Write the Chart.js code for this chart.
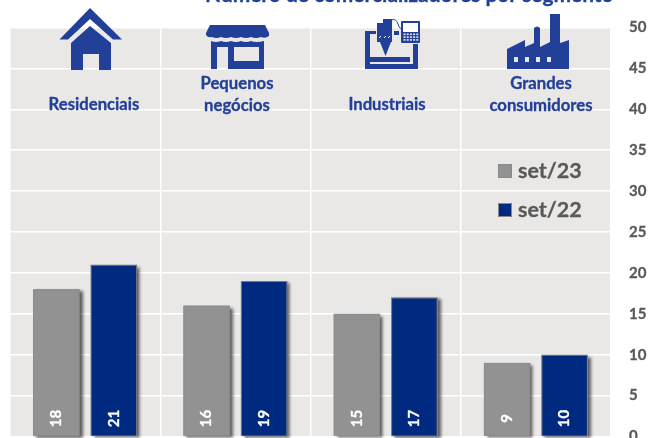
<!DOCTYPE html>
<html><head><meta charset="utf-8">
<style>html,body{margin:0;padding:0;background:#fff;overflow:hidden}#w{width:656px;height:438px;position:relative}</style>
<script src="https://cdn.jsdelivr.net/npm/chart.js@4"></script>
</head><body><div id="w"><canvas id="c"></canvas></div>
<script>
const categories = [["Residenciais"],["Pequenos","negócios"],["Industriais"],["Grandes","consumidores"]];
const set23 = [18,16,15,9];
const set22 = [21,19,17,10];
const seriesNames = ["set/23","set/22"];
const yTicks = [0,5,10,15,20,25,30,35,40,45,50];
const titleText = "Número de comercializadores por segmento";
const BLUE="#234099", NAVY="#002A7F", GREY="#929292", TXT="#595959", FONT="Lato, Carlito, sans-serif";

function house(c){c.beginPath();c.moveTo(59.5,39.5);c.lineTo(90,8);c.lineTo(122,39.5);c.lineTo(113,39.5);c.lineTo(90,19);c.lineTo(68,39.5);c.closePath();c.fill();
 c.beginPath();c.moveTo(71,43);c.lineTo(90,26);c.lineTo(111,43);c.lineTo(111,70);c.lineTo(99,70);c.lineTo(99,54);c.lineTo(83,54);c.lineTo(83,70);c.lineTo(71,70);c.closePath();c.fill();}
function shop(c){c.beginPath();c.moveTo(210,25);c.lineTo(265,25);c.lineTo(269,33);c.lineTo(269,36);c.quadraticCurveTo(265,39,261,37);c.quadraticCurveTo(256,39,251,37);c.quadraticCurveTo(246,39,241,37);c.quadraticCurveTo(236,39,231,37);c.quadraticCurveTo(226,39,221,37);c.quadraticCurveTo(216,39,212,37);c.quadraticCurveTo(208,38,206,35);c.lineTo(206,33);c.closePath();c.fill();
 c.beginPath();c.moveTo(211,41);c.quadraticCurveTo(216,43,221,41);c.quadraticCurveTo(226,43,231,41);c.quadraticCurveTo(236,43,241,41);c.quadraticCurveTo(246,43,251,41);c.quadraticCurveTo(256,43,264,41);c.lineTo(264,69);c.lineTo(228,69);c.lineTo(228,47);c.lineTo(217,47);c.lineTo(217,69);c.lineTo(211,69);c.closePath();c.fill();
 c.fillStyle="#E9E8E7";c.fillRect(234,47,25,14);c.fillStyle=BLUE;}
function machine(c){c.fillRect(365,31,5,38);c.fillRect(365,31,11,3);c.fillRect(365,64,53,5);c.fillRect(413,44,5,25);c.fillRect(370,57,40,5);
 c.fillRect(377,23,15,19);c.fillRect(383,19,9,5);
 c.beginPath();c.moveTo(380,42);c.lineTo(391,42);c.lineTo(385.5,56);c.closePath();c.fill();
 c.fillRect(394,31,5,4);
 c.strokeStyle=BLUE;c.lineWidth=1;c.beginPath();c.moveTo(391,20);c.quadraticCurveTo(396,18,398,24);c.quadraticCurveTo(399,29,402,29);c.stroke();
 c.fillStyle="#fff";c.fillRect(401,21,18,21);c.fillStyle=BLUE;
 c.lineWidth=2;c.strokeStyle=BLUE;c.strokeRect(402,22,17,20);
 c.fillRect(402,32,17,10);c.fillStyle="#E9E8E7";
 for(let r=0;r<3;r++)for(let k=0;k<5;k++)c.fillRect(403.5+k*3.2,33.5+r*2.8,2,1.6);
 c.fillStyle=BLUE;
 c.lineWidth=1;c.strokeStyle="#fff";c.beginPath();c.moveTo(379,38);c.lineTo(381,36);c.moveTo(384,38);c.lineTo(386,36);c.moveTo(388,38);c.lineTo(390,36);c.stroke();}
function factory(c){c.beginPath();c.moveTo(507,69);c.lineTo(507,49);c.lineTo(525,40);c.lineTo(525,47);c.lineTo(534,43);c.lineTo(534,28);c.quadraticCurveTo(537,25,540,28);c.lineTo(540,47);c.lineTo(550,42);c.lineTo(550,14);c.lineTo(560,14);c.lineTo(560,43);c.lineTo(569,40);c.lineTo(569,69);c.closePath();c.fill();
 c.fillStyle="#E9E8E7";[514,525,536,547].forEach(x=>c.fillRect(x,57,4,5));c.fillStyle=BLUE;}

function heavy(c,t,x,y,col,w){c.fillStyle=col;c.fillText(t,x,y);c.strokeStyle=col;c.lineWidth=w;c.lineJoin="round";c.strokeText(t,x,y);}

const overlay={id:"overlay",
 beforeDatasetsDraw(ch){const c=ch.ctx;c.save();c.shadowColor="rgba(0,0,0,0.6)";c.shadowBlur=3;c.shadowOffsetX=3;c.shadowOffsetY=2;c.fillStyle="#888";
  ch.data.datasets.forEach((d,di)=>ch.getDatasetMeta(di).data.forEach(b=>{c.fillRect(b.x-b.width/2,b.y,b.width,b.base-b.y);}));
  c.restore();},
 afterDraw(ch){const c=ch.ctx;c.save();
  c.font="bold 20.9px "+FONT;c.textBaseline="alphabetic";c.textAlign="left";heavy(c,titleText,205,2,BLUE,.3);
  c.fillStyle=BLUE;[house,shop,machine,factory].forEach(f=>{c.save();f(c);c.restore();});
  c.font="bold 16.7px "+FONT;c.textAlign="center";c.textBaseline="middle";
  const cx=[94,237,387,541];
  categories.forEach((l,i)=>{ if(l.length==1)heavy(c,l[0],cx[i],105,BLUE,.3); else {heavy(c,l[0],cx[i],84,BLUE,.3);heavy(c,l[1],cx[i],105.5,BLUE,.3);} });
  c.font="bold 15px "+FONT;
  ch.data.datasets.forEach((d,di)=>{ch.getDatasetMeta(di).data.forEach((b,i)=>{c.save();c.translate(b.x,ch.scales.y.getPixelForValue(0)-18);c.rotate(-Math.PI/2);c.textAlign="center";heavy(c,String(d.data[i]),0,0,"#fff",.3);c.restore();});});
  c.textAlign="left";c.font="bold 21.5px "+FONT;
  [[164,GREY],[203,NAVY]].forEach(([y,col],i)=>{c.fillStyle=col;c.fillRect(498,y,14,14);c.strokeStyle="#8a8a8a";c.lineWidth=1;c.strokeRect(498.5,y+.5,13,13);heavy(c,seriesNames[i],518,y+7,TXT,.3);});
  c.restore();}
};
const bg={id:"bg",beforeDraw(ch){const a=ch.chartArea,c=ch.ctx;c.save();c.fillStyle="#E9E8E7";c.fillRect(a.left,a.top,a.right-a.left,a.bottom-a.top);c.restore();}};
new Chart(document.getElementById("c"),{type:"bar",
 data:{labels:categories.map(l=>l.join(" ")),datasets:[
  {label:seriesNames[0],data:set23,backgroundColor:GREY,borderColor:"#8d8d8d",borderWidth:1,categoryPercentage:.765,barPercentage:.81},
  {label:seriesNames[1],data:set22,backgroundColor:NAVY,borderColor:"#7f7f7f",borderWidth:1,categoryPercentage:.765,barPercentage:.81}]},
 plugins:[bg,overlay],
 options:{responsive:true,maintainAspectRatio:false,animation:false,
  layout:{padding:{left:10,top:27.5,right:0,bottom:1.5}},
  plugins:{legend:{display:false},title:{display:false},tooltip:{enabled:false}},
  scales:{
   x:{offset:true,ticks:{display:false},grid:{color:"#fff",lineWidth:1.5,offset:true,drawTicks:false},border:{display:false},
      afterFit(s){s.height=0;s.paddingLeft=s.paddingRight=s.paddingTop=s.paddingBottom=0;}},
   y:{position:"right",min:0,max:50,
      afterBuildTicks(s){s.ticks=yTicks.map(v=>({value:v}));},
      afterFit(s){s.width=45;s.paddingTop=s.paddingBottom=0;},
      ticks:{color:TXT,font:{family:FONT,weight:"bold",size:15},padding:18,textStrokeColor:TXT,textStrokeWidth:.3},
      grid:{color:"#fff",lineWidth:1.5,drawTicks:false},border:{display:false}}
  }}});
</script></body></html>
